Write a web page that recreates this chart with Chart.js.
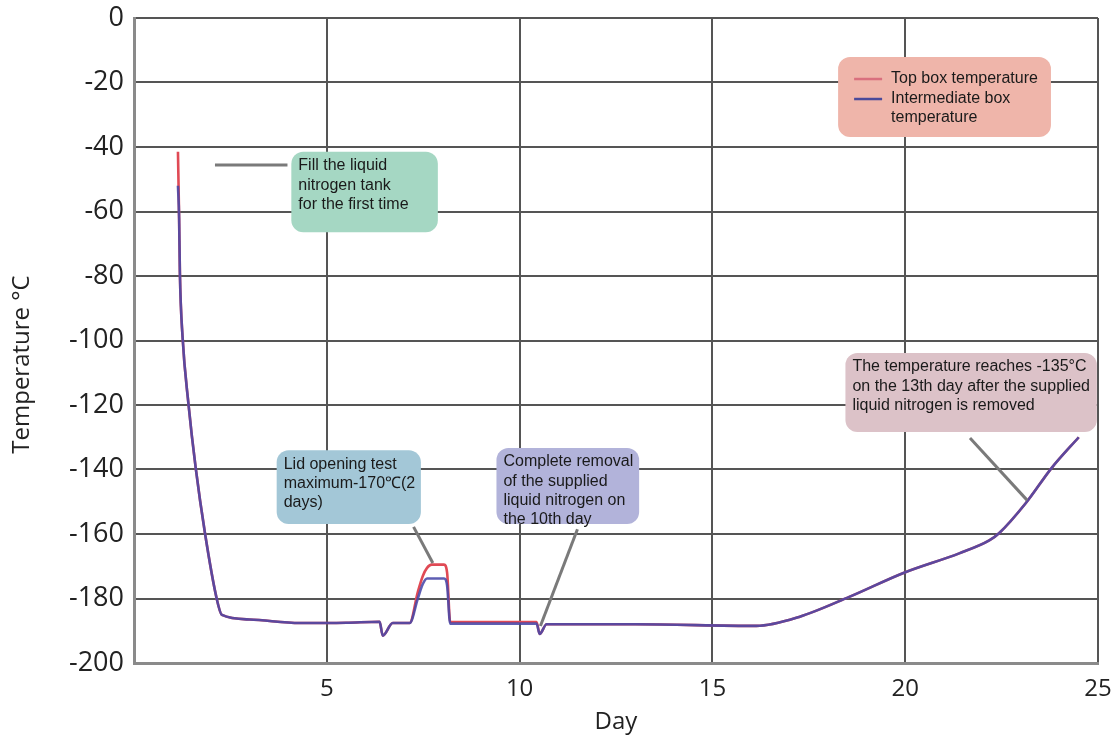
<!DOCTYPE html>
<html>
<head>
<meta charset="utf-8">
<script src="https://cdn.jsdelivr.net/npm/chart.js@4.4.1/dist/chart.umd.min.js"></script>
<style>
  body { margin: 0; background: #fff; }
  canvas { display: block; }
</style>
</head>
<body>
<canvas id="tempChart" width="1120" height="743"></canvas>
<script>
// day of the measurement (shared by both series)
const days = [1.14, 1.17, 1.19, 1.26, 1.41, 1.6, 1.84, 2.14, 2.28, 3.0, 4.3, 5.5, 6.37, 6.45, 6.71,
  7.15, 7.36, 7.49, 7.6, 7.72, 8.04, 8.12, 8.2, 10.44, 10.52, 10.7, 13.0, 16.14, 17.25, 18.55,
  19.97, 21.4, 22.18, 22.44, 23.13, 23.8, 24.5];
const topBox = [-41.5, -62, -79, -99, -119.4, -139.5, -159.7, -179.8, -185.1, -186.5, -187.6, -187.5, -187.2, -191.5, -187.6,
  -187.6, -178, -173, -170.5, -169.5, -169.5, -172, -187.3, -187.3, -191, -188, -188, -188.5, -185.7, -179.5,
  -172, -166, -162, -159.7, -150.4, -139.5, -130];
const midBox = [-52, -62, -79, -99, -119.4, -139.5, -159.7, -179.8, -185.1, -186.5, -187.6, -187.5, -187.2, -191.5, -187.6,
  -187.6, -180, -175.5, -173.8, -173.8, -173.8, -176, -187.8, -187.8, -191, -188, -188, -188.5, -185.7, -179.5,
  -172, -166, -162, -159.7, -150.4, -139.5, -130];
const seriesNames = ['Top box temperature', 'Intermediate box temperature'];
const yTitle = 'Temperature \u00b0C';

// callout boxes: box corners in data units, leader line from/to in data units
const notes = [
  { lines: ['Fill the liquid', 'nitrogen tank', 'for the first time'], x0: 4.08, x1: 7.88, y0: -41.5, y1: -66.4,
    fill: '#a5d7c3', lead: [2.1, -45.6, 3.98, -45.6] },
  { lines: ['Lid opening test', 'maximum-170\u2103(2', 'days)'], x0: 3.7, x1: 7.44, y0: -134, y1: -156.9,
    fill: '#a3c7d7', lead: [7.25, -157.8, 7.75, -169] },
  { lines: ['Complete removal', 'of the supplied', 'liquid nitrogen on', 'the 10th day'], x0: 9.4, x1: 13.1, y0: -133.3, y1: -156.9,
    fill: '#b2b3da', lead: [11.5, -158.5, 10.54, -188.5] },
  { lines: ['The temperature reaches -135\u00b0C', 'on the 13th day after the supplied', 'liquid nitrogen is removed'],
    x0: 18.45, x1: 24.97, y0: -103.9, y1: -128.4, fill: '#dcc2c8', lead: [21.68, -130.2, 23.16, -149.5] }
];

const lineColors = ['#e04a55', 'rgba(72, 72, 168, 0.88)'];
const xFont = { family: 'Open Sans', size: 24 };
const yFont = { family: 'Open Sans', size: 27 };
const titleFont = { family: 'Open Sans', size: 24 };
const noteFont = '16px "Liberation Sans", Arial, sans-serif';

function roundBox(c, x, y, w, h, r) {
  c.beginPath();
  c.moveTo(x + r, y);
  c.arcTo(x + w, y, x + w, y + h, r);
  c.arcTo(x + w, y + h, x, y + h, r);
  c.arcTo(x, y + h, x, y, r);
  c.arcTo(x, y, x + w, y, r);
  c.closePath();
}

const callouts = {
  id: 'callouts',
  afterDatasetsDraw(chart) {
    const c = chart.ctx, xs = chart.scales.x, ys = chart.scales.y;
    c.save();
    c.font = noteFont;
    c.textBaseline = 'middle';
    notes.forEach(n => {
      const l = n.lead;
      c.strokeStyle = '#7a7a7a';
      c.lineWidth = 3;
      c.beginPath();
      c.moveTo(xs.getPixelForValue(l[0]), ys.getPixelForValue(l[1]));
      c.lineTo(xs.getPixelForValue(l[2]), ys.getPixelForValue(l[3]));
      c.stroke();
      const bx = xs.getPixelForValue(n.x0), by = ys.getPixelForValue(n.y0);
      const bw = xs.getPixelForValue(n.x1) - bx, bh = ys.getPixelForValue(n.y1) - by;
      roundBox(c, bx, by, bw, bh, 12);
      c.fillStyle = n.fill;
      c.fill();
      c.fillStyle = '#1a1a1a';
      n.lines.forEach((t, i) => c.fillText(t, bx + 7, by + 14 + i * 19.3));
    });

    // legend box
    const lx = xs.getPixelForValue(18.26), ly = ys.getPixelForValue(-12.1);
    const lw = xs.getPixelForValue(23.78) - lx, lh = ys.getPixelForValue(-36.9) - ly;
    roundBox(c, lx, ly, lw, lh, 12);
    c.fillStyle = '#efb5aa';
    c.fill();
    const legendLines = [seriesNames[0], 'Intermediate box', 'temperature'];
    chart.data.datasets.forEach((ds, i) => {
      c.strokeStyle = i === 0 ? '#d9707e' : '#4a4a9a';
      c.lineWidth = 2.5;
      c.beginPath();
      c.moveTo(lx + 16, ly + 22 + i * 20);
      c.lineTo(lx + 44, ly + 22 + i * 20);
      c.stroke();
    });
    c.fillStyle = '#1a1a1a';
    legendLines.forEach((t, i) => c.fillText(t, lx + 53, ly + 22 + i * 19.5));

    // y axis title, sits a little below the middle of the axis as in the original
    c.translate(22, (chart.chartArea.top + chart.chartArea.bottom) / 2 + 24);
    c.rotate(-Math.PI / 2);
    c.font = '24px "Open Sans"';
    c.fillStyle = '#222';
    c.textAlign = 'center';
    c.fillText(yTitle, 0, 0);
    c.restore();
  }
};

new Chart(document.getElementById('tempChart').getContext('2d'), {
  type: 'line',
  data: {
    labels: days,
    datasets: [
      { label: seriesNames[0], data: topBox, borderColor: lineColors[0], order: 2 },
      { label: seriesNames[1], data: midBox, borderColor: lineColors[1], order: 1 }
    ]
  },
  options: {
    responsive: false,
    animation: false,
    elements: {
      point: { radius: 0 },
      line: { borderWidth: 2.6, cubicInterpolationMode: 'monotone' }
    },
    layout: { padding: { top: 18, right: 22, bottom: 0, left: 0 } },
    plugins: { legend: { display: false }, tooltip: { enabled: false } },
    scales: {
      x: {
        type: 'linear', min: 0, max: 25,
        ticks: { stepSize: 5, padding: 12, maxRotation: 0, color: '#222', font: xFont,
          callback: v => (v === 0 ? '' : v) },
        grid: { color: '#555', lineWidth: 2, drawTicks: false },
        border: { color: '#8a8a8a', width: 3 },
        title: { display: true, text: 'Day', color: '#222', font: titleFont, padding: { top: 0, bottom: 6 } },
        afterFit: s => { s.height = 80; s.paddingLeft = 0; s.paddingRight = 0; }
      },
      y: {
        min: -200, max: 0,
        ticks: { stepSize: 20, padding: 10, color: '#222', font: yFont },
        grid: { color: '#555', lineWidth: 2, drawTicks: false },
        border: { color: '#8a8a8a', width: 3 },
        afterFit: s => { s.width = 134; s.paddingTop = 0; s.paddingBottom = 0; }
      }
    }
  },
  plugins: [callouts]
});
</script>
</body>
</html>
